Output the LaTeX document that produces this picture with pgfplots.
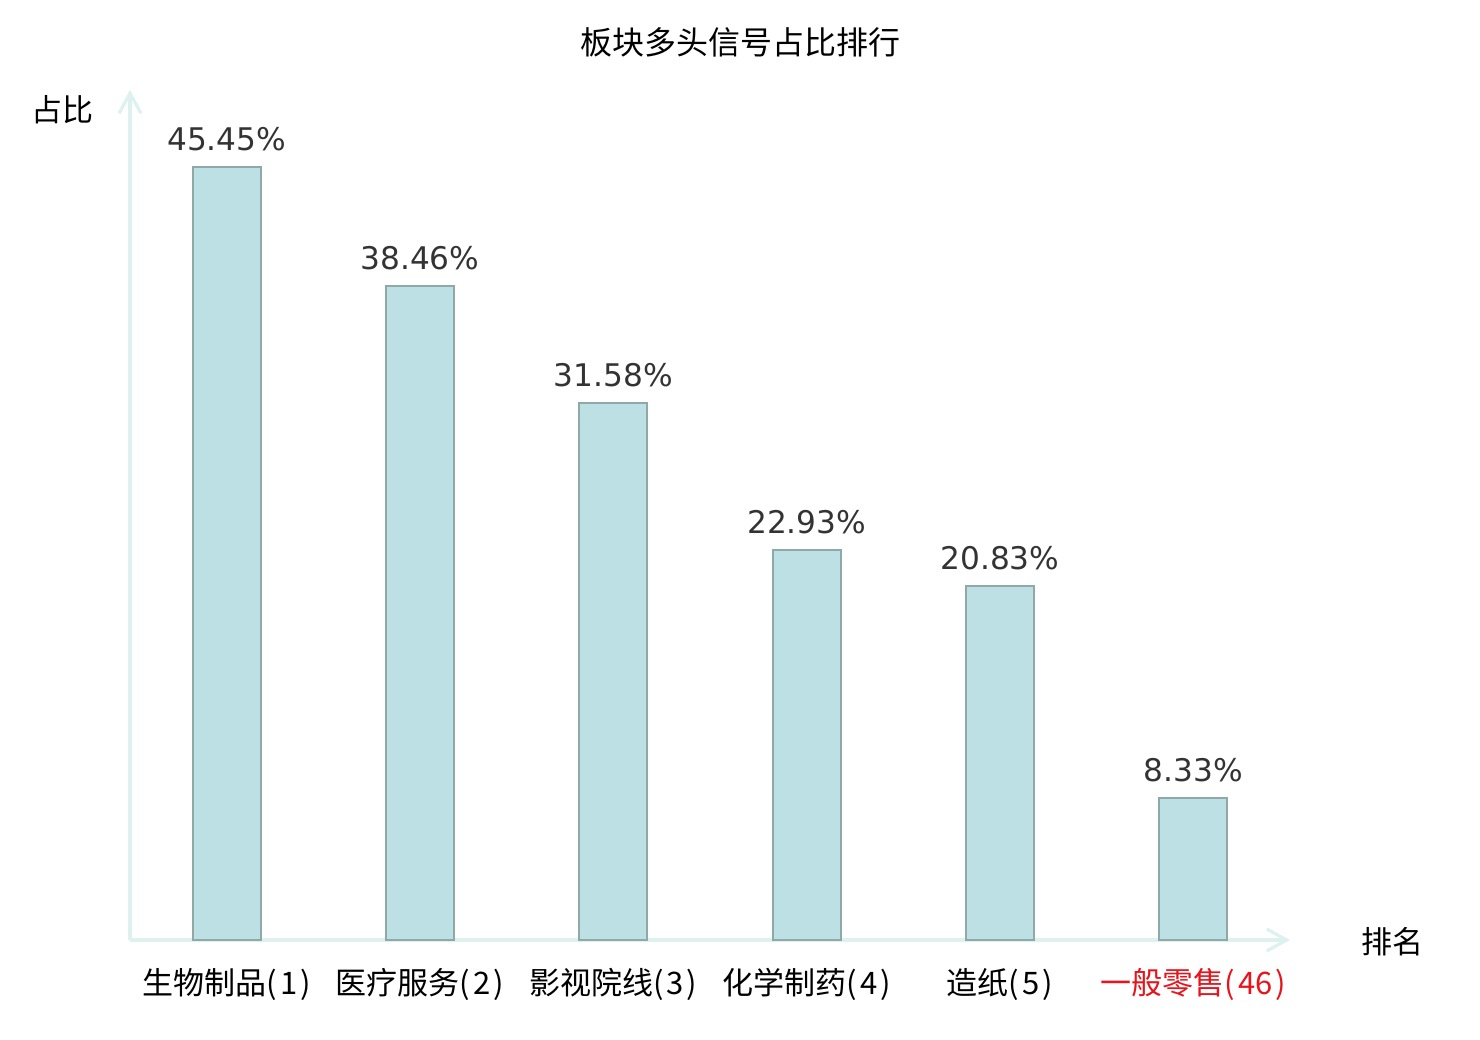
\documentclass[border=0pt]{standalone}
\usepackage{pgfplots}
\pgfplotsset{compat=1.18}
\usepackage{fontspec}
\setmainfont{DejaVu Sans}
\newfontfamily\cjk{Noto Sans CJK SC}
\usetikzlibrary{arrows.meta}
\definecolor{barfill}{HTML}{BCE0E3}
\definecolor{bardraw}{HTML}{8FA9A8}
\definecolor{axiscol}{HTML}{DDF1EE}
\definecolor{lbl}{HTML}{333333}
\definecolor{redl}{HTML}{E8141B}
\newcommand{\pn}[1]{(\kern1.5pt#1\kern1.5pt)}
\begin{document}
\begin{tikzpicture}
\useasboundingbox (0,0) rectangle (740pt,520pt);
\node[font=\cjk\fontsize{16}{19}\selectfont, text=black] at (370pt,499pt) {板块多头信号占比排行};
\node[font=\cjk\fontsize{15.5}{18}\selectfont, text=black] at (31.5pt,465pt) {占比};
\node[font=\cjk\fontsize{15.5}{18}\selectfont, text=black] at (696pt,49pt) {排名};
\begin{axis}[at={(65pt,50pt)}, anchor=south west, scale only axis,
  width=580pt, height=425pt,
  xmin=-0.5, xmax=5.5, ymin=0, ymax=50,
  axis line style={draw=none},
  ytick=\empty, xtick={0,1,2,3,4,5}, major tick length=0pt,
  xticklabels={生物制品\pn{1},医疗服务\pn{2},影视院线\pn{3},化学制药\pn{4},造纸\pn{5},{\color{redl}一般零售\pn{46}}},
  xticklabel style={font=\cjk\fontsize{15.5}{18}\selectfont, yshift=-10.5pt},
  clip=false]
\draw[axiscol, line width=1.6pt, -{Straight Barb[length=10pt,width=11pt]}] (axis cs:-0.5,0) -- (axis cs:5.5,0);
\draw[axiscol, line width=1.6pt, -{Straight Barb[length=10pt,width=11pt]}] (axis cs:-0.5,0) -- (axis cs:-0.5,50);
\addplot[ybar, bar width=34pt, fill=barfill, draw=bardraw, line width=1pt,
  point meta=explicit symbolic,
  nodes near coords,
  nodes near coords style={font=\fontsize{15.6}{18}\selectfont, text=lbl, anchor=south, inner sep=0pt, yshift=7.5pt}]
  coordinates {(0,45.45) [45.45\%] (1,38.46) [38.46\%] (2,31.58) [31.58\%] (3,22.93) [22.93\%] (4,20.83) [20.83\%] (5,8.33) [8.33\%]};
\end{axis}
\end{tikzpicture}
\end{document}
